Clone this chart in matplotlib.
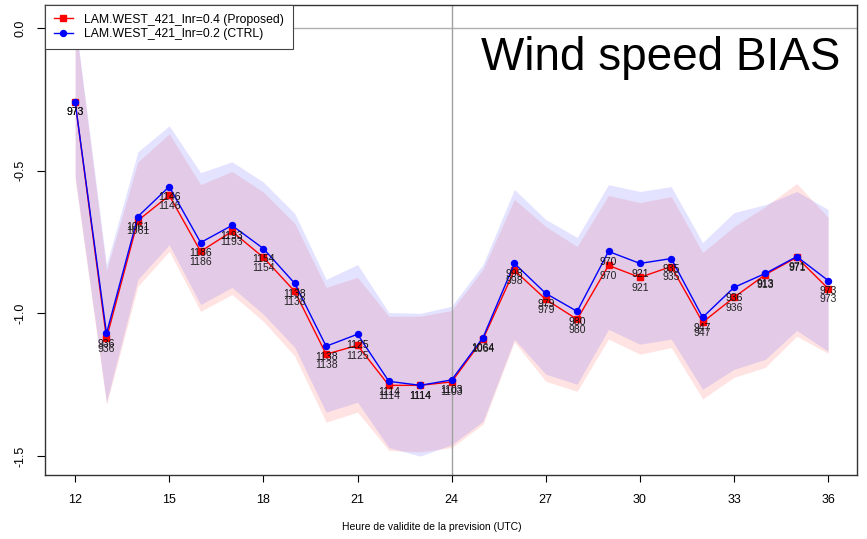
import numpy as np
import matplotlib
matplotlib.use("Agg")
import matplotlib.pyplot as plt

plt.rcParams['font.family'] = ['Liberation Sans', 'DejaVu Sans']

# forecast lead time (UTC hour) and number of obs used at each hour
hours = np.arange(12, 37)
n_obs = [973, 936, 1061, 1146, 1186, 1193, 1154, 1138, 1138, 1125, 1114, 1114, 1103,
         1064, 998, 979, 980, 970, 921, 935, 947, 936, 913, 971, 973]

# wind speed bias, proposed run (lnr=0.4)
bias_prop = [-0.259, -1.087, -0.675, -0.587, -0.783, -0.713, -0.804, -0.923, -1.143,
             -1.112, -1.252, -1.252, -1.240, -1.090, -0.849, -0.951, -1.021, -0.832,
             -0.874, -0.836, -1.031, -0.944, -0.864, -0.804, -0.913]
prop_hi = [0.02, -0.85, -0.47, -0.371, -0.549, -0.503, -0.575, -0.685, -0.909, -0.874,
           -1.01, -1.01, -0.99, -0.846, -0.601, -0.696, -0.766, -0.587, -0.612, -0.591,
           -0.787, -0.696, -0.626, -0.545, -0.664]
prop_lo = [-0.53, -1.32, -0.905, -0.783, -0.993, -0.934, -1.028, -1.15, -1.381, -1.346,
           -1.48, -1.485, -1.47, -1.388, -1.10, -1.238, -1.273, -1.09, -1.143, -1.12,
           -1.30, -1.224, -1.189, -1.08, -1.14]

# wind speed bias, control run (lnr=0.2)
bias_ctrl = [-0.259, -1.070, -0.661, -0.556, -0.752, -0.692, -0.773, -0.895, -1.115,
             -1.073, -1.238, -1.252, -1.233, -1.085, -0.825, -0.930, -0.993, -0.783,
             -0.825, -0.808, -1.014, -0.909, -0.860, -0.801, -0.885]
ctrl_hi = [0.03, -0.83, -0.434, -0.343, -0.507, -0.469, -0.54, -0.65, -0.881, -0.829,
           -0.997, -1.0, -0.975, -0.829, -0.566, -0.671, -0.734, -0.549, -0.573, -0.556,
           -0.752, -0.647, -0.619, -0.573, -0.636]
ctrl_lo = [-0.52, -1.31, -0.881, -0.76, -0.969, -0.909, -1.003, -1.119, -1.346, -1.311,
           -1.47, -1.50, -1.46, -1.378, -1.091, -1.213, -1.248, -1.056, -1.108, -1.09,
           -1.266, -1.196, -1.161, -1.06, -1.133]

fig = plt.figure(figsize=(8.67, 5.39), dpi=100)
ax = fig.add_axes([45 / 867, 64 / 539, 812 / 867, 470 / 539])

# confidence bands
ax.fill_between(hours, prop_lo, prop_hi, color='red', alpha=0.11, lw=0)
ax.fill_between(hours, ctrl_lo, ctrl_hi, color='blue', alpha=0.11, lw=0)

# reference lines
ax.axhline(0, color='#b0b0b0', lw=1, zorder=1)
ax.axvline(24, color='#a0a0a0', lw=1, zorder=1)

ax.plot(hours, bias_prop, color='red', lw=1, marker='s', ms=4.5,
        label='LAM.WEST_421_lnr=0.4 (Proposed)', zorder=3)
ax.plot(hours, bias_ctrl, color='blue', lw=1, marker='o', ms=4.3,
        label='LAM.WEST_421_lnr=0.2 (CTRL)', zorder=4)

# sample size under each point
for h, n, yp, yc in zip(hours, n_obs, bias_prop, bias_ctrl):
    ax.annotate(str(n), (h, yp), xytext=(0, -7.5), textcoords='offset points',
                ha='center', va='center', fontsize=7.5, color='#222222', zorder=5)
    ax.annotate(str(n), (h, yc), xytext=(0, -7.5), textcoords='offset points',
                ha='center', va='center', fontsize=7.5, color='#111111', zorder=5)

ax.set_xlim(11.04, 36.92)
ax.set_ylim(-1.566, 0.08)
ax.set_xticks(np.arange(12, 37, 3))
ax.set_yticks([0.0, -0.5, -1.0, -1.5])
ax.set_yticklabels(['0.0', '-0.5', '-1.0', '-1.5'], rotation=90, va='center')
ax.tick_params(axis='x', length=5, pad=9, labelsize=9)
ax.tick_params(axis='y', length=6, pad=7, labelsize=9)
for s in ax.spines.values():
    s.set_color('#333333')
    s.set_linewidth(1)

ax.text(0.979, 0.862, 'Wind speed BIAS', transform=ax.transAxes, ha='right',
        va='baseline', fontsize=33)

fig.text(432 / 867, 1 - 527 / 539, 'Heure de validite de la prevision (UTC)',
         ha='center', va='center', fontsize=7.5)

leg = ax.legend(loc='upper left', borderaxespad=0, fancybox=False, framealpha=1,
                edgecolor='#444444', fontsize=8.8, handlelength=1.6, labelspacing=0.2,
                borderpad=0.7, handletextpad=0.9)
leg.get_frame().set_linewidth(0.8)
leg.set_zorder(10)

fig.savefig('out.png', dpi=100)
